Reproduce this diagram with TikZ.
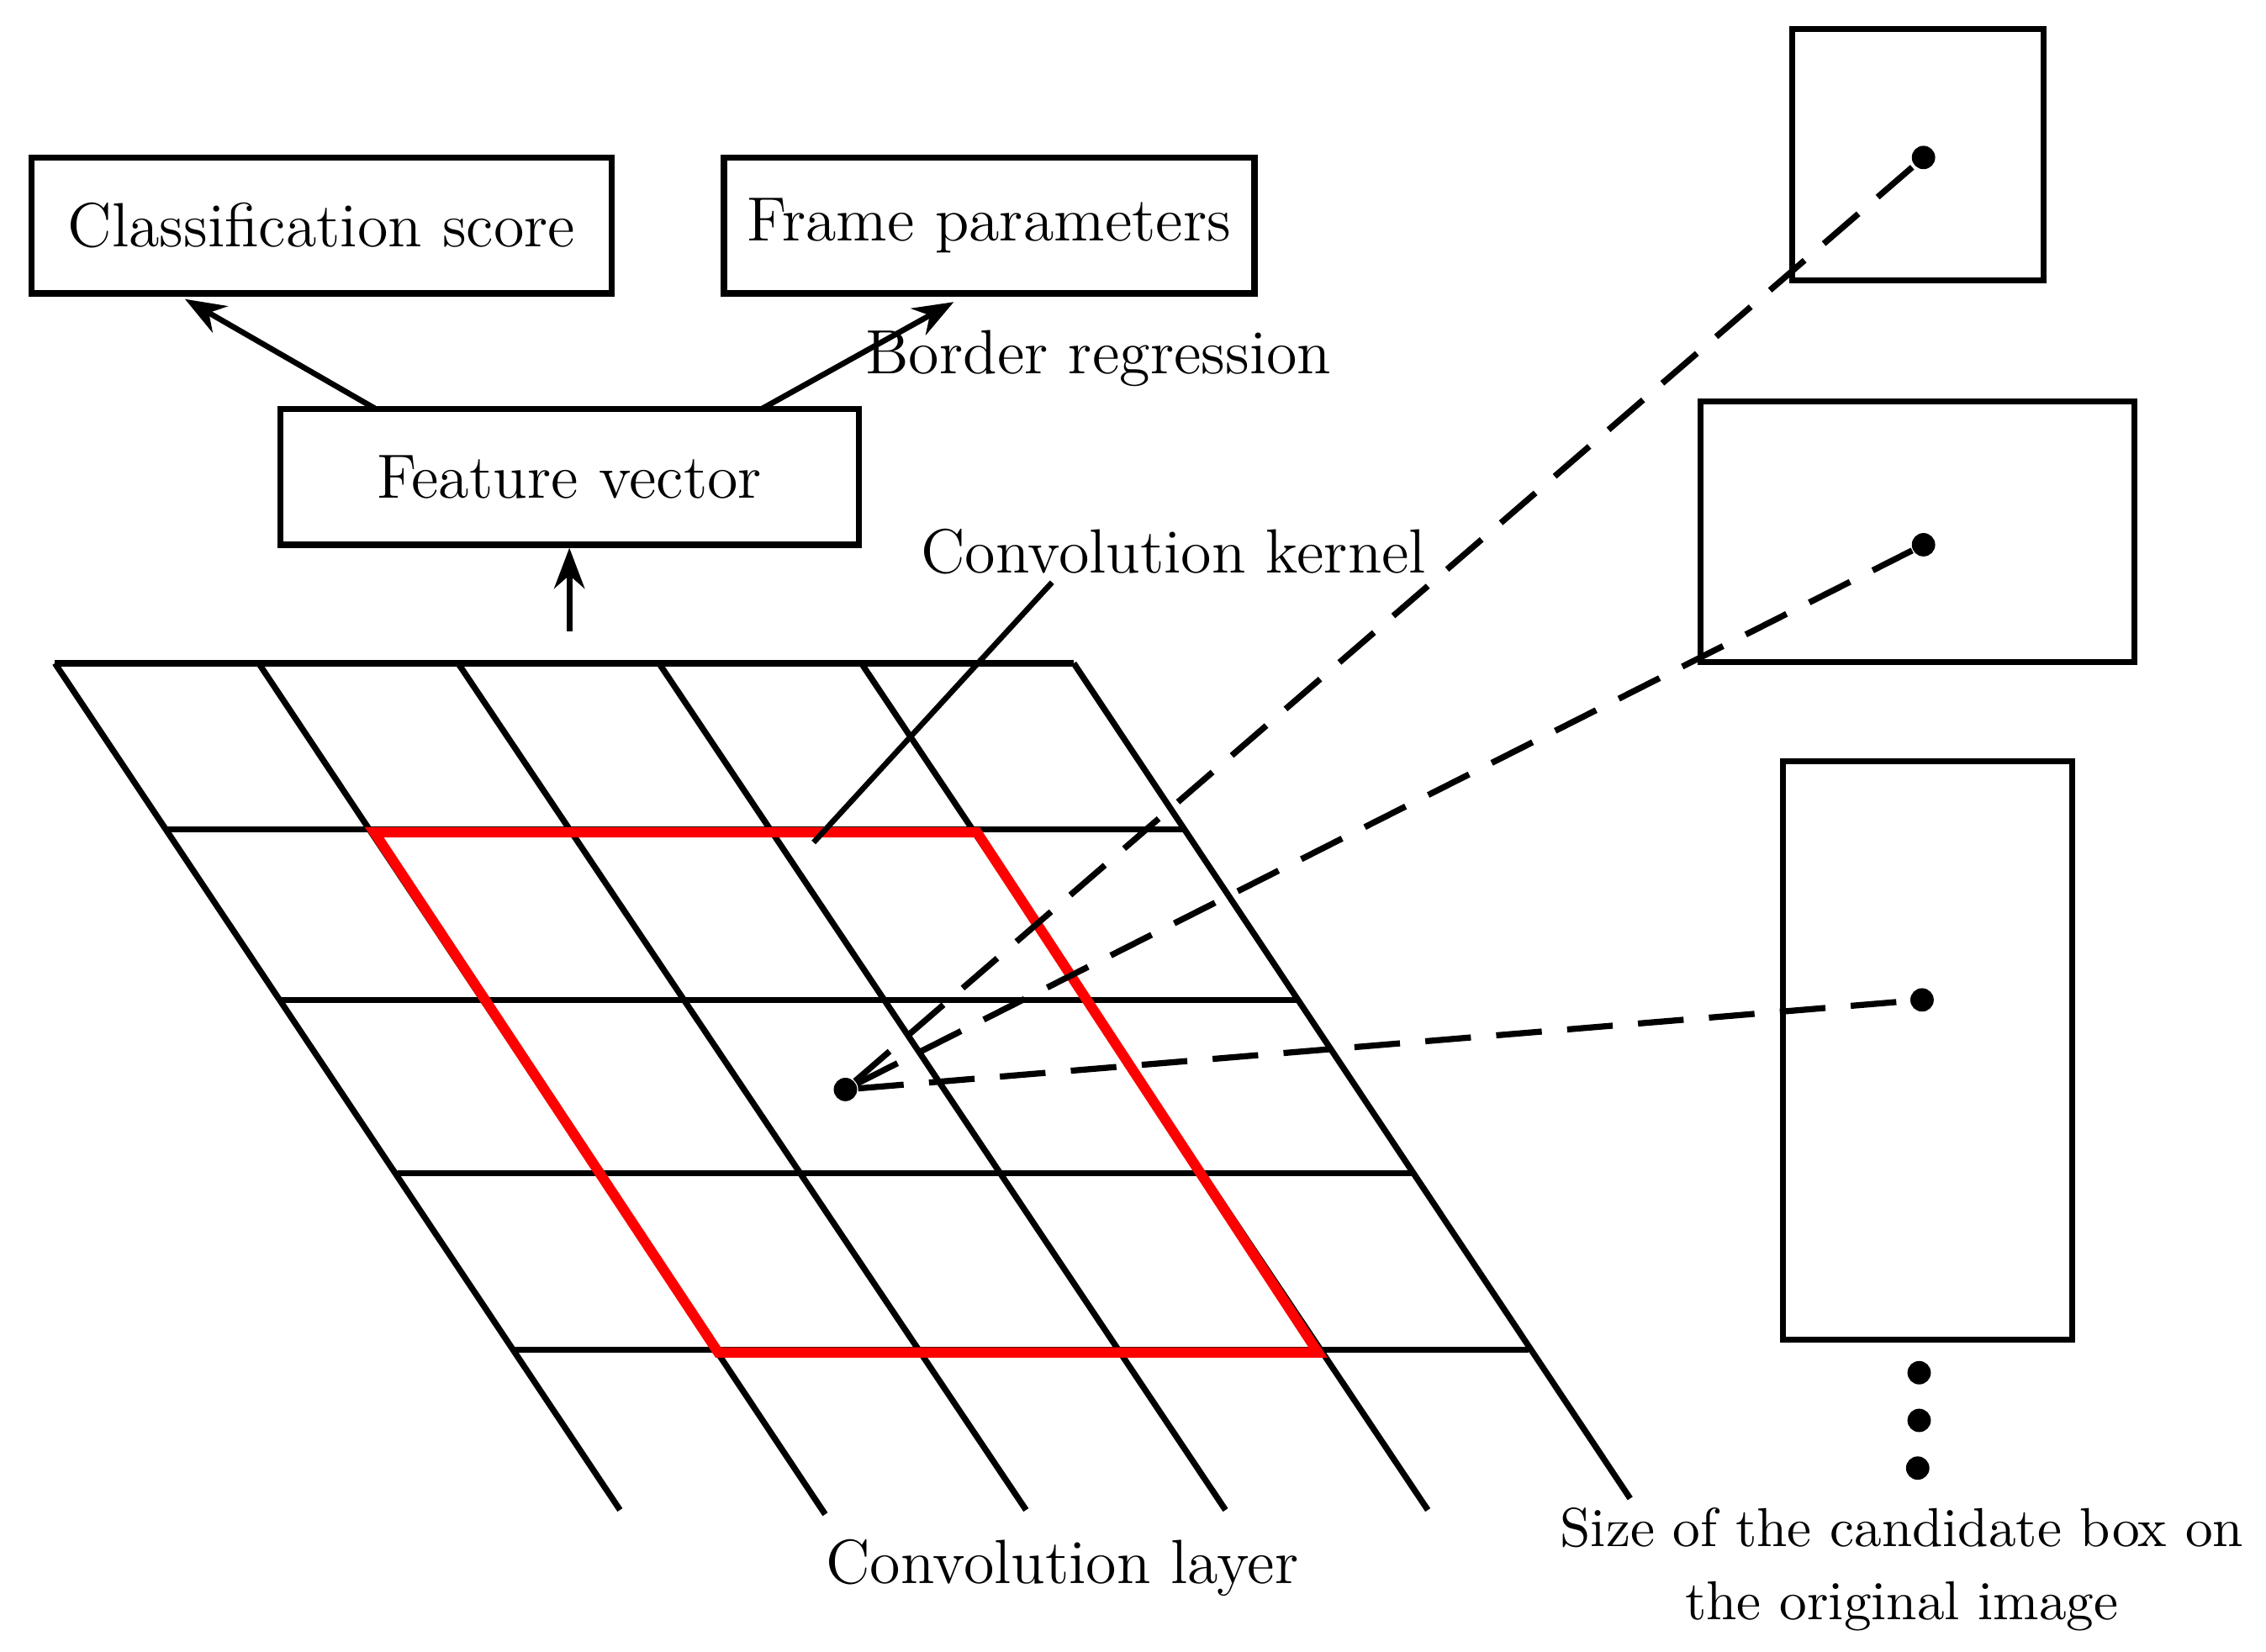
\documentclass[tikz,border=0pt]{standalone}
\usetikzlibrary{arrows.meta}
\begin{document}
\begin{tikzpicture}[x=0.01cm,y=-0.01cm,
  box/.style={draw,line width=1.2pt,inner sep=0pt},
  lbl/.style={font=\fontsize{12.3}{15}\selectfont},
  arr/.style={line width=1.1pt,-{Stealth[length=8pt,width=6pt]}},
  dsh/.style={line width=1.2pt,dash pattern=on 9pt off 5pt},
  dot/.style={circle,fill,inner sep=0pt,minimum size=4.6pt},
  g/.style={line width=1.2pt}]
\useasboundingbox (0,0) rectangle (1568,1143);
% grid
\foreach \y/\xa/\xb in {459/38/743,574/116/820,692/195/897,812/275/977,934/356/1058}
  \draw[g] (\xa,\y) -- (\xb,\y);
\foreach \xa/\xb/\yb in {38/429/1045,179/571/1048,317/710/1045,456/848/1045,596/988/1045,743/1128/1037}
  \draw[g] (\xa,459) -- (\xb,\yb);
\draw[red,line width=2pt] (259,576) -- (676,576) -- (912,936) -- (497,936) -- cycle;
% boxes
\node[box,minimum width=4.01cm,minimum height=0.94cm,lbl] (cls) at (222.5,156) {Classification score};
\node[box,minimum width=3.67cm,minimum height=0.94cm,lbl] (frm) at (684.5,156) {Frame parameters};
\node[box,minimum width=4.00cm,minimum height=0.94cm,lbl] (fv) at (394,330) {Feature vector};
\coordinate (fvL) at (260,283); \coordinate (fvR) at (527,283);
\coordinate (clsT) at (128,207); \coordinate (frmT) at (660,209);
\draw[arr] (fvL) -- (clsT);
\draw[arr] (fvR) -- (frmT);
\coordinate (up) at (394,437);
\draw[arr] (up) -- (fv.south);
\node[lbl] (br) at (760,248) {Border regression};
\node[lbl] (ck) at (812,382) {Convolution kernel};
\coordinate (ckE) at (563,583);
\draw[line width=1.1pt] (728,403) -- (ckE);
\node[lbl] (cl) at (735,1085) {Convolution layer};
% right boxes
\node[box,minimum width=1.74cm,minimum height=1.74cm] (b1) at (1327,107) {};
\node[box,minimum width=3.00cm,minimum height=1.80cm] (b2) at (1327,368) {};
\node[box,minimum width=2.00cm,minimum height=4.00cm] (b3) at (1334,727) {};
\node[dot] (c) at (585,754) {};
\node[dot] (d1) at (1331,109) {};
\node[dot] (d2) at (1331,377) {};
\node[dot] (d3) at (1330,692) {};
\draw[dsh] (c) -- (d1);
\draw[dsh] (c) -- (d2);
\draw[dsh] (c) -- (d3);
\node[dot] (e1) at (1328,950) {};
\node[dot] (e2) at (1328,983) {};
\node[dot] (e3) at (1327,1016) {};
\node[font=\fontsize{10.8}{14.5}\selectfont,align=center] (sz) at (1316,1086) {Size of the candidate box on\\the original image};
\end{tikzpicture}
\end{document}
